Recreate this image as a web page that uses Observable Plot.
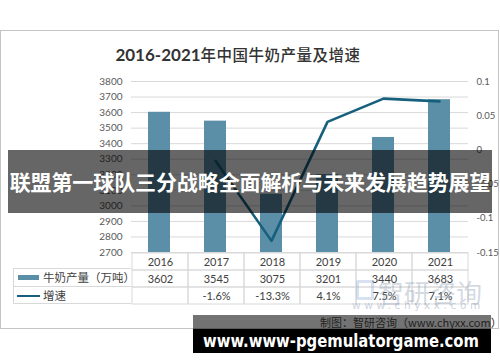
<!DOCTYPE html>
<html>
<head>
<meta charset="utf-8">
<script src="https://cdn.jsdelivr.net/npm/d3@7"></script>
<script src="https://cdn.jsdelivr.net/npm/@observablehq/plot@0.6"></script>
<style>
  html, body { margin: 0; padding: 0; background: #fff; }
  #wrap { position: relative; width: 500px; height: 362px; overflow: hidden; background: #fff;
          font-family: Lato, "Noto Sans CJK SC", sans-serif; }
  .abs { position: absolute; }
  #frame { left: 0; top: 30px; width: 499px; height: 299px; box-sizing: border-box; border: 1px solid #c4c4c4; }
  #title { left: 0; width: 476px; top: 43px; text-align: center; white-space: nowrap; color: #333; font-size: 15.5px; }
  #title .num { font-family: Lato, sans-serif; font-weight: 700; font-size: 17px; }
  #title .zh { font-family: "Noto Sans CJK SC", sans-serif; font-weight: 500; letter-spacing: 0.5px; }
  .legcell { box-sizing: border-box; border: 1px solid #d9d9d9; border-right: none; left: 13px; width: 118px;
             font-family: "Noto Sans CJK SC", sans-serif; font-size: 11.5px; color: #404040; }
  .sw { position: absolute; }
  .lab { position: absolute; white-space: nowrap; }
  #banner { left: 8px; top: 149.5px; width: 484px; height: 63px; background: rgba(0,0,0,0.6); color: #fff;
            font-family: "Noto Sans CJK SC", sans-serif; font-weight: 700; font-size: 21px; line-height: 63px;
            text-align: center; white-space: nowrap; letter-spacing: -0.1px; }
  #wm { left: 378px; top: 273px; font-family: "Noto Sans CJK SC", sans-serif; font-size: 26px; color: rgba(150,165,185,0.42); white-space: nowrap; }
  #wmurl { left: 352px; top: 299px; font-family: "DejaVu Sans", sans-serif; font-size: 10.5px; letter-spacing: 3.6px; color: rgba(150,165,185,0.5); white-space: nowrap; }
  #wmicon { left: 356px; top: 280px; width: 18px; height: 20px; border: 3px solid rgba(140,170,210,0.35); border-radius: 2px; box-sizing: border-box; }
  #graybar { left: 193px; top: 315px; width: 298px; height: 14px; background: rgba(0,0,0,0.55); }
  #caption { left: 320px; top: 313px; font-family: "Noto Sans CJK SC", sans-serif; font-size: 11px; color: #222; white-space: nowrap; line-height: 18px; }
  #blackbar { left: 193px; top: 329px; width: 298px; height: 24px; background: #000; }
  #site { left: 193px; top: 329px; width: 298px; height: 24px; }
</style>
</head>
<body>
<div id="wrap">
  <div id="frame" class="abs"></div>
  <div id="title" class="abs"><span class="num">2016-2021</span><span class="zh">年中国牛奶产量及增速</span></div>
  <div id="chart" class="abs" style="left:0;top:70px;"></div>
  <div id="table" class="abs" style="left:0;top:252px;"></div>
  <div class="abs legcell" style="top:268px;height:19px;">
    <div class="sw" style="left:4px;top:6px;width:21px;height:5px;background:#5a8fa7;"></div>
    <div class="lab" style="left:29px;top:0px;line-height:17px;">牛奶产量（万吨）</div>
  </div>
  <div class="abs legcell" style="top:286px;height:18px;">
    <div class="sw" style="left:3px;top:7.5px;width:23px;height:2.5px;background:#17607d;"></div>
    <div class="lab" style="left:29px;top:0px;line-height:16px;">增速</div>
  </div>
  <div id="wmicon" class="abs"></div>
  <div id="wm" class="abs">智研咨询</div>
  <div id="wmurl" class="abs">www.chyxx.com</div>
  <div id="banner" class="abs">联盟第一球队三分战略全面解析与未来发展趋势展望</div>
  <div id="graybar" class="abs"></div>
  <div id="caption" class="abs">制图：智研咨询（www.chyxx.com）</div>
  <div id="blackbar" class="abs"></div>
  <svg id="site" class="abs" width="298" height="24">
    <text x="10" y="18" textLength="276" lengthAdjust="spacingAndGlyphs" fill="#fff"
          font-family="DejaVu Sans, sans-serif" font-weight="700" font-size="18">www.www-pgemulatorgame.com</text>
  </svg>
</div>
<script>
// ---- data ----
const years = ["2016", "2017", "2018", "2019", "2020", "2021"];
const production = [3602, 3545, 3075, 3201, 3440, 3683];
const growthYears = ["2017", "2018", "2019", "2020", "2021"];
const growth = [-0.016, -0.133, 0.041, 0.075, 0.071];
const growthLabels = ["", "-1.6%", "-13.3%", "4.1%", "7.5%", "7.1%"];
const leftTicks = [2700, 2800, 2900, 3000, 3100, 3200, 3300, 3400, 3500, 3600, 3700, 3800];
const rightTicks = [-0.15, -0.1, -0.05, 0, 0.05, 0.1];

// secondary axis: map growth domain [-0.15, 0.1] onto the production domain [2700, 3800]
const yDomain = [2700, 3800];
const gDomain = [-0.15, 0.1];
const toLeft = g => yDomain[0] + (g - gDomain[0]) / (gDomain[1] - gDomain[0]) * (yDomain[1] - yDomain[0]);
const fromLeft = v => gDomain[0] + (v - yDomain[0]) / (yDomain[1] - yDomain[0]) * (gDomain[1] - gDomain[0]);

const barData = years.map((year, i) => ({year, value: production[i]}));
const lineData = growthYears.map((year, i) => ({year, g: growth[i]}));

const font = 'Lato, "Noto Sans CJK SC", sans-serif';

const chart = Plot.plot({
  width: 500,
  height: 190,
  marginLeft: 131,
  marginRight: 32,
  marginTop: 11,
  marginBottom: 8,
  style: {fontFamily: font, fontSize: "10px", color: "#595959", background: "transparent", overflow: "visible"},
  x: {type: "band", domain: years, paddingInner: 0.6, paddingOuter: 0.3, axis: null},
  y: {domain: yDomain, axis: null},
  marks: [
    Plot.gridY(leftTicks, {stroke: "#d9d9d9", strokeOpacity: 1}),
    Plot.axisY(leftTicks, {anchor: "left", tickSize: 0, tickPadding: 9, label: null,
      tickFormat: d => String(d), fill: "#595959", fontSize: 10}),
    Plot.axisY(rightTicks.map(toLeft), {anchor: "right", tickSize: 0, tickPadding: 8, label: null,
      tickFormat: d => String(+fromLeft(d).toFixed(2)), fill: "#595959", fontSize: 9.5}),
    Plot.barY(barData, {x: "year", y1: yDomain[0], y2: "value", fill: "#5a8fa7"}),
    Plot.line(lineData, {x: "year", y: d => toLeft(d.g), stroke: "#17607d", strokeWidth: 2.6})
  ]
});
document.getElementById("chart").appendChild(chart);

// ---- data table under the chart ----
const rows = ["year", "prod", "growth"];
const cells = [];
years.forEach((year, i) => {
  cells.push({year, row: "year", text: year});
  cells.push({year, row: "prod", text: String(production[i])});
  cells.push({year, row: "growth", text: growthLabels[i]});
});

const table = Plot.plot({
  width: 500,
  height: 52,
  marginLeft: 131,
  marginRight: 32,
  marginTop: 0,
  marginBottom: 0,
  style: {fontFamily: font, fontSize: "11px", color: "#404040", background: "transparent", overflow: "visible"},
  x: {type: "band", domain: years, padding: 0, axis: null},
  y: {type: "band", domain: rows, padding: 0, axis: null},
  marks: [
    Plot.cell(cells, {x: "year", y: "row", fill: "none", stroke: "#d9d9d9"}),
    Plot.text(cells, {x: "year", y: "row", text: "text", fill: "#404040", fontSize: 11})
  ]
});
document.getElementById("table").appendChild(table);
</script>
</body>
</html>
